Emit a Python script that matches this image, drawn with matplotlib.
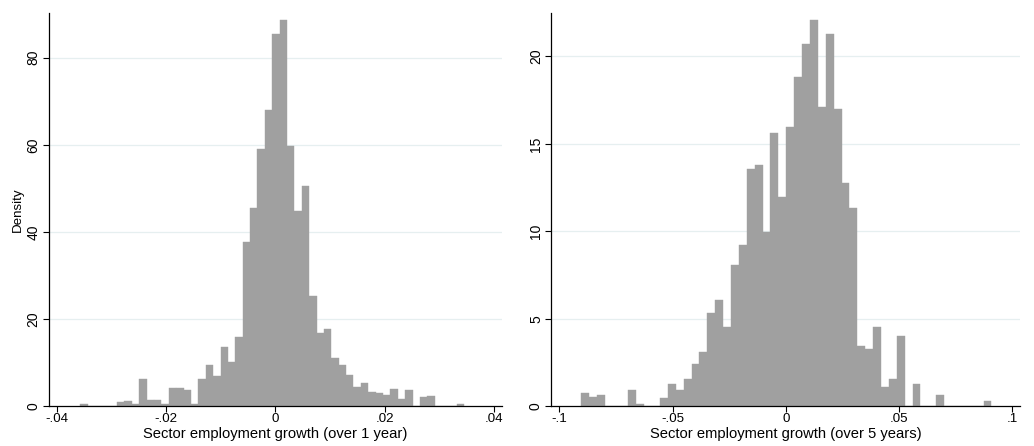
import matplotlib
matplotlib.use("Agg")
import matplotlib.pyplot as plt
import numpy as np

plt.rcParams['font.family'] = ['Liberation Sans', 'DejaVu Sans']

# histogram of sector employment growth, 52 bins in each panel
# 1 year growth
start_1yr = -0.03574
width_1yr = 0.0013516
dens_1yr = [0.46, 0, 0, 0, 0, 0.92, 1.15, 0.61, 6.18, 1.53,
            1.37, 0.53, 4.27, 4.12, 3.82, 0.61, 6.26, 9.39, 7.02, 13.5,
            10.1, 16.0, 37.8, 45.5, 59.0, 68.0, 85.5, 88.6, 59.7, 44.7,
            50.5, 25.2, 16.9, 17.8, 11.0, 9.5, 7.1, 4.35, 5.34, 3.28,
            3.05, 2.67, 3.97, 1.68, 3.66, 0, 2.14, 2.44, 0, 0,
            0, 0.53]
xticks_1yr = [-0.04, -0.02, 0, 0.02, 0.04]
xlabels_1yr = ["-.04", "-.02", "0", ".02", ".04"]
yticks_1yr = [0, 20, 40, 60, 80]

# 5 year growth
start_5yr = -0.09046
width_5yr = 0.003488
dens_5yr = [0.75, 0.56, 0.65, 0, 0, 0, 0.92, 0.13, 0, 0,
            0.50, 1.25, 0.92, 1.55, 2.43, 3.08, 5.33, 6.07, 4.54, 8.08,
            9.22, 13.57, 13.78, 9.96, 15.63, 11.97, 15.94, 18.84, 20.69, 22.10,
            17.10, 21.28, 17.0, 12.75, 11.32, 3.43, 3.28, 4.52, 1.09, 1.55,
            4.0, 0, 1.28, 0, 0, 0.65, 0, 0, 0, 0,
            0, 0.33]
xticks_5yr = [-0.1, -0.05, 0, 0.05, 0.1]
xlabels_5yr = ["-.1", "-.05", "0", ".05", ".1"]
yticks_5yr = [0, 5, 10, 15, 20]

bar_col = "#a0a0a0"
grid_col = "#e6eff0"

fig = plt.figure(figsize=(10.34, 4.46), dpi=100)
ax1 = fig.add_axes([0.0471, 0.0890, 0.4381, 0.8825])
ax2 = fig.add_axes([0.5332, 0.0890, 0.4530, 0.8825])


def draw_hist(ax, start, width, dens, xticks, xlabels, yticks, xlab, xlim, ylim):
    edges = start + width * np.arange(len(dens) + 1)
    ax.bar(edges[:-1], dens, width=width, align="edge", color=bar_col,
           edgecolor=bar_col, linewidth=0.3, zorder=2)
    ax.set_xlim(xlim)
    ax.set_ylim(ylim)
    ax.set_xticks(xticks)
    ax.set_xticklabels(xlabels)
    ax.set_yticks(yticks)
    ax.set_yticklabels([str(v) for v in yticks], rotation=90, va="center")
    ax.tick_params(axis="x", direction="out", length=4, width=0.8, pad=1, labelsize=9.6)
    ax.tick_params(axis="y", direction="out", length=4, width=0.8, pad=2, labelsize=10)
    for s in ["top", "right"]:
        ax.spines[s].set_visible(False)
    for s in ["left", "bottom"]:
        ax.spines[s].set_linewidth(0.9)
    # faint horizontal grid, not at zero
    for v in yticks[1:]:
        ax.axhline(v, color=grid_col, linewidth=0.9, zorder=1)
    ax.set_xlabel(xlab, fontsize=10.6, labelpad=1.5)


draw_hist(ax1, start_1yr, width_1yr, dens_1yr, xticks_1yr, xlabels_1yr, yticks_1yr,
          "Sector employment growth (over 1 year)", (-0.0415, 0.0414), (0, 90.3))
ax1.set_ylabel("Density", fontsize=9.6, labelpad=2)

draw_hist(ax2, start_5yr, width_5yr, dens_5yr, xticks_5yr, xlabels_5yr, yticks_5yr,
          "Sector employment growth (over 5 years)", (-0.1036, 0.1034), (0, 22.5))

fig.savefig("out.png", dpi=100)
